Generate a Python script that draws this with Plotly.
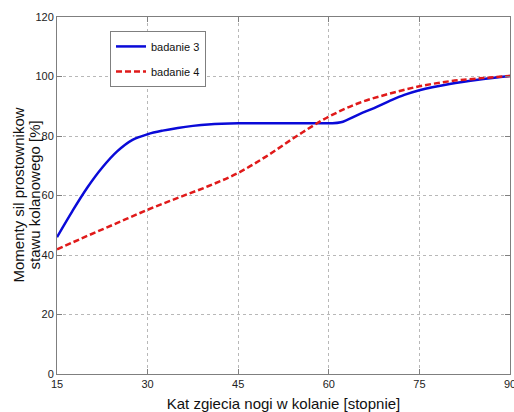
import plotly.graph_objects as go

x_b3 = [15, 17.5, 20, 22.5, 25, 27.5, 30, 32.5, 35, 37.5, 40, 45, 50, 55, 60, 62, 65, 67.5, 70, 72.5, 75, 80, 85, 90]
y_b3 = [46, 54.6, 62.6, 69.4, 74.9, 78.7, 80.6, 81.8, 82.7, 83.4, 83.9, 84.3, 84.3, 84.3, 84.3, 84.6, 87.3, 89.4, 91.7, 93.8, 95.4, 97.5, 99, 100.2]

x_b4 = [15, 20, 25, 30, 35, 40, 45, 50, 55, 60, 65, 70, 75, 80, 85, 90]
y_b4 = [41.9, 46.4, 50.8, 55.2, 59.2, 63.1, 67.6, 73.6, 80.4, 86.5, 91.1, 94.2, 96.7, 98.4, 99.4, 100.2]

x_ticks = [15, 30, 45, 60, 75, 90]
y_ticks = [0, 20, 40, 60, 80, 100, 120]

y_title_lines = ["Momenty sil prostownikow", "stawu kolanowego [%]"]

fig = go.Figure()
fig.add_trace(go.Scatter(x=x_b3, y=y_b3, mode="lines", name="badanie 3", legendgroup="a",
                         line=dict(color="#0a0ad8", width=2.5, shape="spline", smoothing=1.0)))
fig.add_trace(go.Scatter(x=x_b4, y=y_b4, mode="lines", name="badanie 4", legendgroup="b",
                         line=dict(color="#e01a1a", width=2.5, dash="6px,3px", shape="spline", smoothing=1.0)))

axis_common = dict(showline=True, linecolor="#7f7f7f", linewidth=1, mirror="ticks",
                   ticks="inside", ticklen=5, tickcolor="#7f7f7f",
                   showgrid=True, gridcolor="#b8b8b8", griddash="dot", gridwidth=1,
                   zeroline=False, ticklabeloverflow="allow", automargin=False,
                   tickfont=dict(family="Liberation Sans, Arial", size=11, color="#222222"))

fig.update_layout(
    width=514, height=412,
    margin=dict(l=57, r=4, t=17, b=38),
    paper_bgcolor="white", plot_bgcolor="white",
    font=dict(family="Liberation Sans, Arial", color="#111111"),
    xaxis=dict(range=[15, 90], tickvals=x_ticks, ticktext=[str(v) for v in x_ticks],
               title=dict(text="Kat zgiecia nogi w kolanie [stopnie]", font=dict(size=15), standoff=12),
               **axis_common),
    yaxis=dict(range=[0, 120], tickvals=y_ticks, ticktext=[str(v) for v in y_ticks],
               **axis_common),
    legend=dict(x=0.117, y=0.961, xanchor="left", yanchor="top",
                bgcolor="white", bordercolor="#7f7f7f", borderwidth=1,
                font=dict(size=11, color="#111111"), tracegroupgap=6, itemwidth=30),
    showlegend=True,
)

# two-line y-axis title, one rotated text per line
for i, txt in enumerate(y_title_lines):
    fig.add_annotation(text=txt, xref="paper", yref="paper", x=0, y=0.5,
                       xanchor="center", yanchor="middle", showarrow=False,
                       textangle=-90, xshift=-39 + 16 * i,
                       font=dict(size=15, color="#111111", family="Liberation Sans, Arial"))

fig.write_html("out.html")
